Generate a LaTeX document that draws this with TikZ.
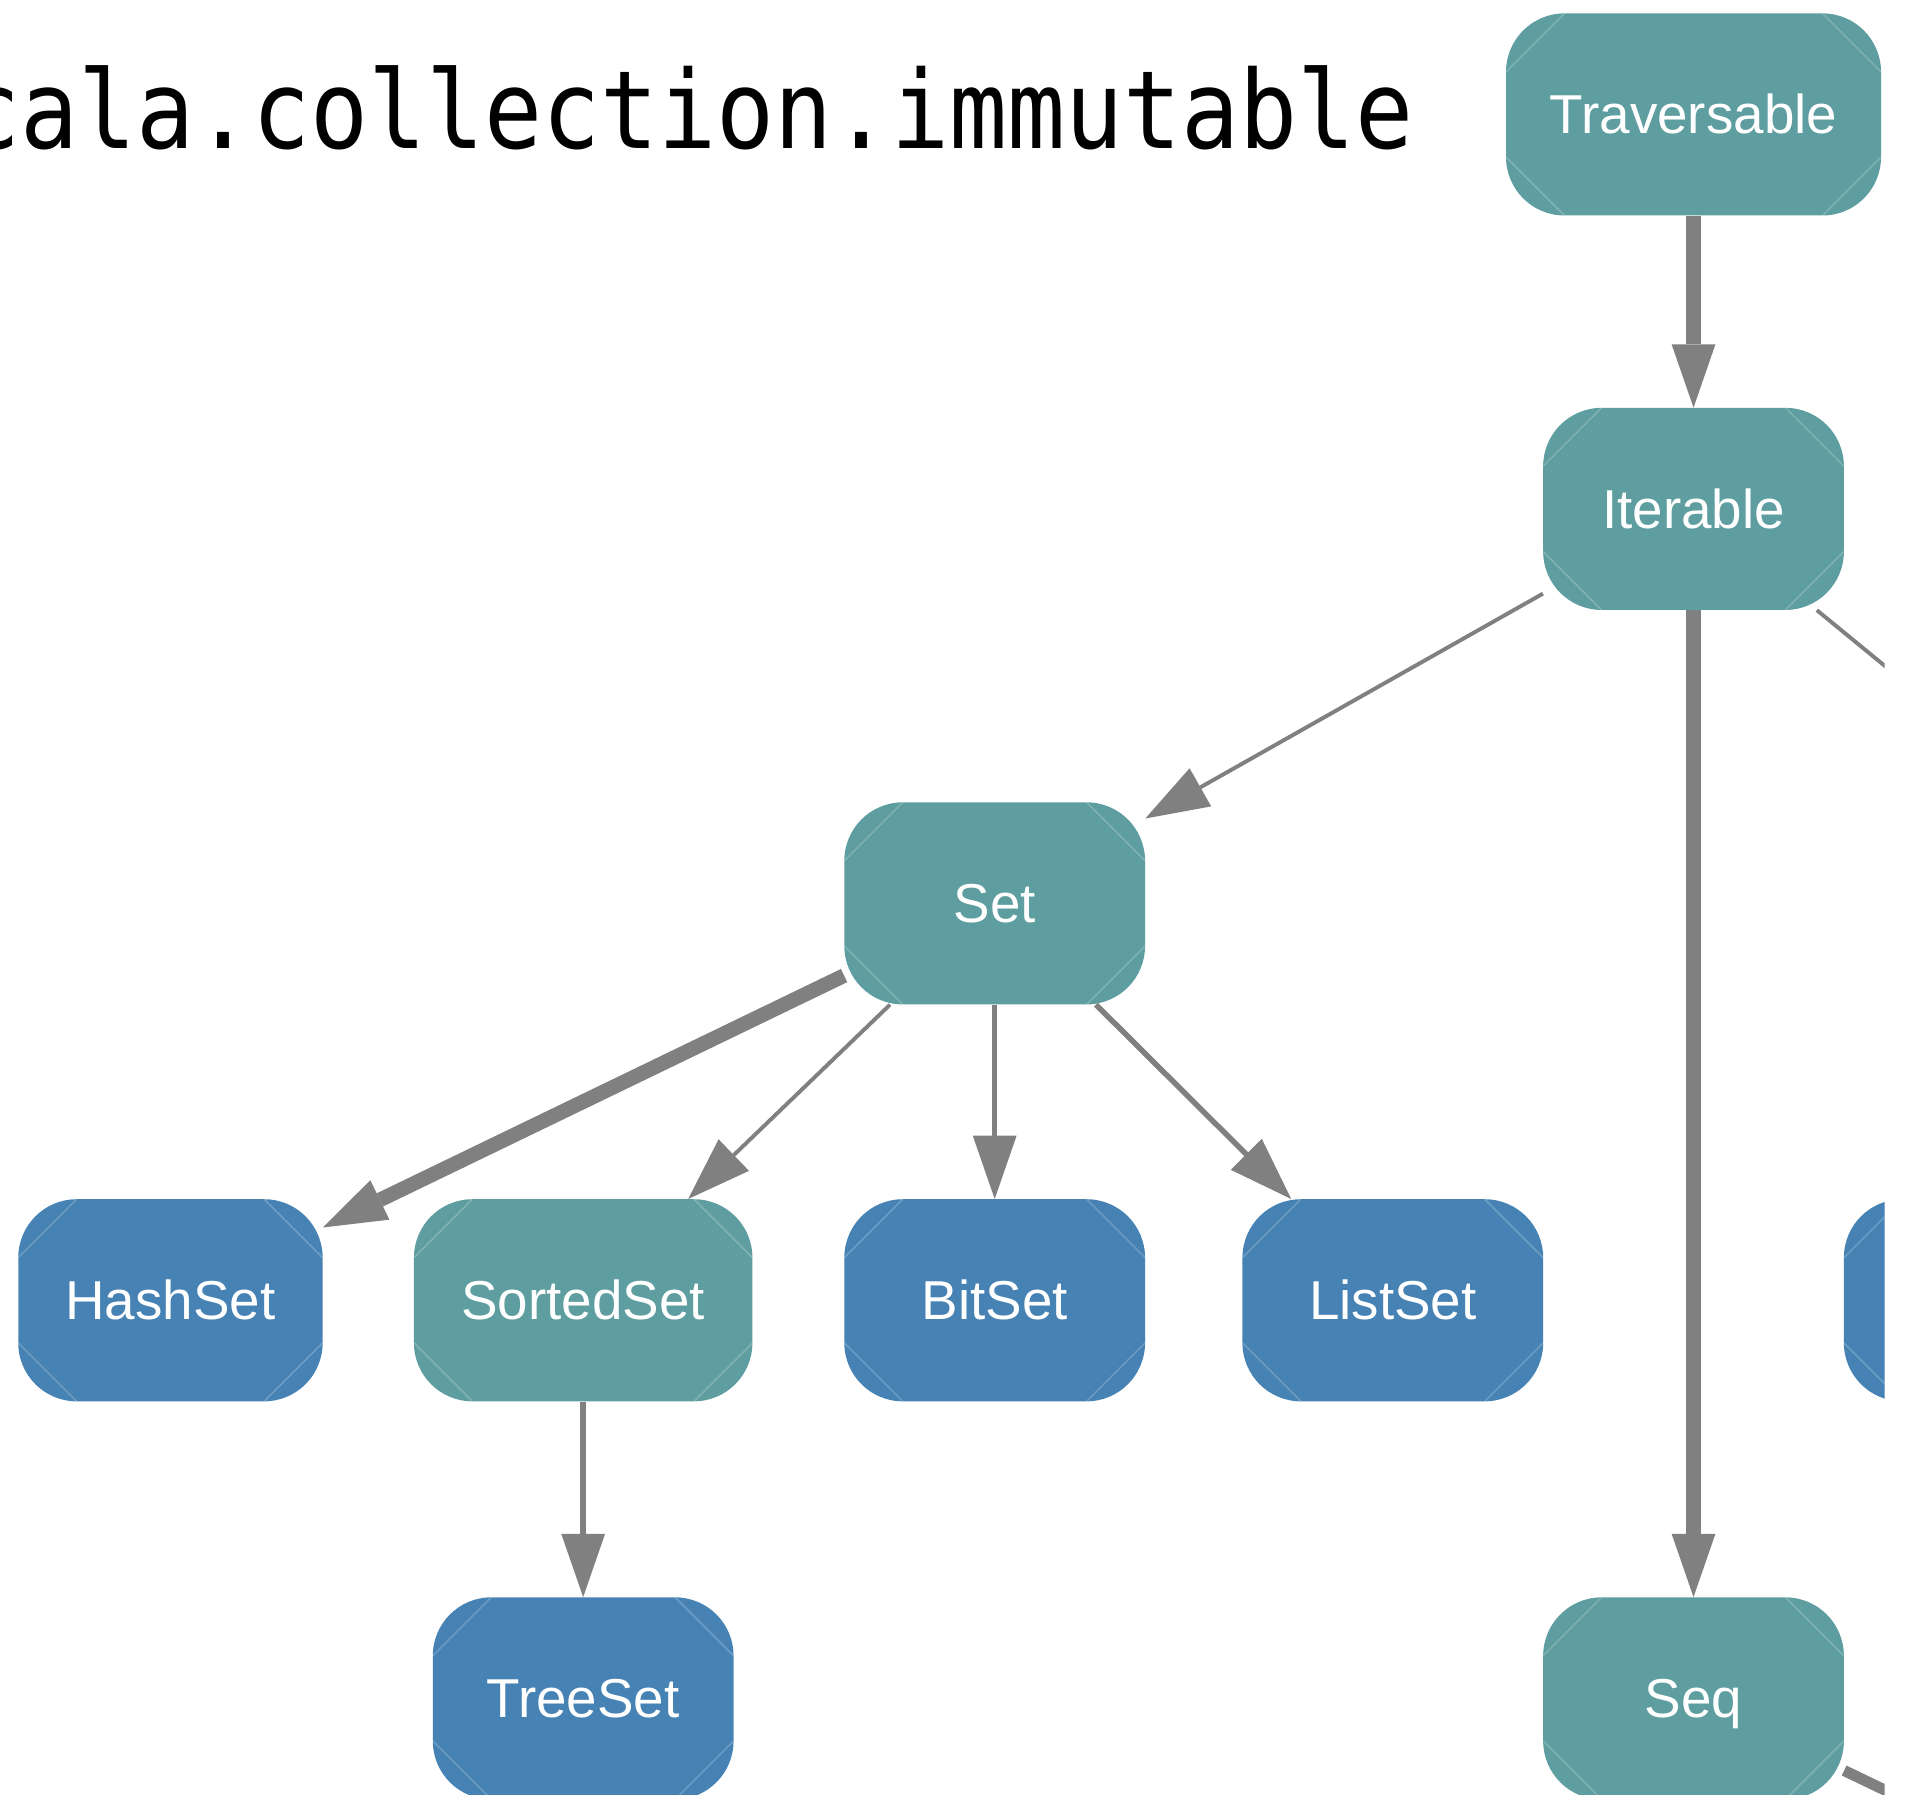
\documentclass[tikz,border=0pt]{standalone}
\usepackage{fontspec}
\setmainfont{Liberation Sans}
\newfontfamily\titlefont[FakeStretch=0.89]{DejaVu Sans Mono}
\usetikzlibrary{arrows.meta}

\definecolor{traitcol}{HTML}{5F9EA0}
\definecolor{classcol}{HTML}{4682B4}
\definecolor{linkcol}{HTML}{808080}

\tikzset{
  % rounded box; the light chords across the corners are the seams of the fill
  box/.style={
    rounded corners=48pt, minimum width=247pt, minimum height=166pt,
    inner sep=0pt, text=white, text height=32pt, text depth=0pt,
    font=\fontsize{45}{54}\selectfont,
    path picture={
      \draw[seam] ([yshift=-48pt]path picture bounding box.north west) -- ([xshift=48pt]path picture bounding box.north west);
      \draw[seam] ([yshift=-48pt]path picture bounding box.north east) -- ([xshift=-48pt]path picture bounding box.north east);
      \draw[seam] ([yshift=48pt]path picture bounding box.south west) -- ([xshift=48pt]path picture bounding box.south west);
      \draw[seam] ([yshift=48pt]path picture bounding box.south east) -- ([xshift=-48pt]path picture bounding box.south east);
    }},
  seam/.style={draw=white, draw opacity=0.22, line width=1.2pt, sharp corners},
  trait/.style={box, fill=traitcol},
  klass/.style={box, fill=classcol},
  link/.style={draw=linkcol, -{Triangle[length=52pt,width=36pt,line width=0pt]}},
  loose/.style={draw=linkcol},
  wbig/.style={line width=12pt},
  wmid/.style={line width=4.5pt},
  wsmall/.style={line width=3.2pt},
}

\begin{document}
\begin{tikzpicture}[x=1pt, y=-1pt]
  \fill[white] (0,0) rectangle (1568,1474);
  \useasboundingbox (0,0) rectangle (1568,1474);

  \begin{scope}
    \clip (0,0) rectangle (1548,1474);

    \node[anchor=base, inner sep=0pt, font=\titlefont\fontsize{89}{100}\selectfont]
      (title) at (565,122) {cala.collection.immutable};

    % class hierarchy
    \node[trait, minimum width=308pt] (trav) at (1391,94) {Traversable};
    \node[trait] (iter) at (1391,418) {Iterable};
    \node[trait] (set) at (817,742) {Set};
    \node[klass, minimum width=250pt] (hash) at (140,1068) {HashSet};
    \node[trait, minimum width=278pt] (sorted) at (479,1068) {SortedSet};
    \node[klass] (bit) at (817,1068) {BitSet};
    \node[klass] (list) at (1144,1068) {ListSet};
    \node[klass] (tree) at (479,1395) {TreeSet};
    \node[trait] (seq) at (1391,1395) {Seq};
    \node[klass] (side) at (1638,1068) {};

    \coordinate (iterout) at (1991,910);
    \coordinate (seqout) at (1991,1683);

    % inheritance links
    \draw[link, wbig] (trav) -- (iter);
    \draw[link, wsmall] (iter) -- (set);
    \draw[link, wbig] (iter) -- (seq);
    \draw[link, wbig] (set) -- (hash);
    \draw[link, wsmall] (set) -- (sorted);
    \draw[link, wmid] (set) -- (bit);
    \draw[link, wmid] (set) -- (list);
    \draw[link, wmid] (sorted) -- (tree);
    \draw[loose, wsmall] (iter) -- (iterout);
    \draw[loose, line width=9pt] (seq) -- (seqout);
  \end{scope}
\end{tikzpicture}
\end{document}
